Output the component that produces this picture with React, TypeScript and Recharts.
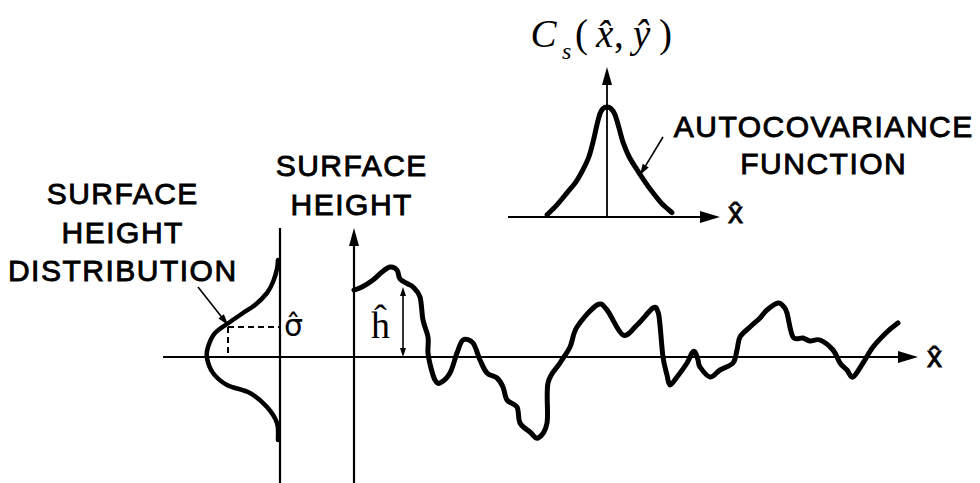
import React from 'react';
import { ComposedChart, Line, XAxis, YAxis, ReferenceLine } from 'recharts';

// ---------------- data ----------------
// Rough surface profile: position x̂ vs surface height ĥ
const profileX = [0, 0.8, 1.9, 2.8, 3.6, 4.3, 4.6, 5.4, 5.9, 6.6, 6.9, 7.4, 7.4, 7.7, 8.1, 8.6, 9.6, 10.3, 10.9, 11.9, 12.6, 13.3, 14.3, 14.9, 15.3, 16.3, 16.6, 17.6, 18.4, 19.3, 19.4, 20.6, 21.6, 22.3, 24.3, 25.3, 26.9, 28.3, 29.9, 30.4, 30.6, 30.9, 31.3, 31.6, 32.3, 33.3, 33.8, 34.1, 34.4, 34.6, 35.6, 36.6, 37.9, 38.3, 38.6, 39.6, 40.6, 41.3, 42.4, 43.0, 43.3, 43.9, 44.9, 45.6, 46.6, 47.9, 48.6, 49.3, 49.9, 50.9, 51.9, 53.3, 54.4];
const profileH = [6.7, 7.0, 7.7, 8.5, 9.0, 8.7, 7.8, 7.3, 7.0, 6.0, 3.7, 2.0, 0.4, -1.1, -2.3, -2.6, -1.6, 0.4, 1.7, 1.4, -0.3, -1.6, -2.1, -3.0, -4.3, -5.0, -6.6, -7.5, -8.1, -6.6, -2.6, -0.6, 1.0, 3.0, 5.2, 4.7, 2.2, 3.2, 4.9, 4.5, 3.2, 0.0, -1.8, -2.8, -2.0, -0.6, 0.4, 0.5, -0.3, -1.0, -2.0, -1.3, -0.6, 0.7, 2.0, 3.0, 3.9, 4.7, 5.4, 5.0, 4.4, 2.0, 1.9, 1.6, 1.7, 0.7, -0.6, -1.3, -2.0, -0.6, 1.0, 2.5, 3.4];

// Surface height distribution (drawn sideways, density grows to the left)
const distributionX = [-7.6, -7.7, -8.1, -8.7, -9.9, -11.1, -12.4, -13.9, -14.6, -14.7, -14.1, -12.7, -10.4, -8.7, -7.7, -7.6];
const distributionH = [9.7, 8.8, 7.5, 6.4, 5.2, 4.4, 3.5, 2.4, 1.0, -0.1, -1.6, -2.8, -3.6, -5.0, -6.6, -8.3];

// Autocovariance function C_s vs lag
const lagX = [-3.0, -2.5, -2.0, -1.55, -1.2, -0.9, -0.7, -0.5, -0.35, -0.2, 0, 0.2, 0.4, 0.6, 0.8, 1.1, 1.5, 1.9, 2.3, 2.75, 3.25];
const covC = [0.02, 0.11, 0.22, 0.32, 0.43, 0.55, 0.68, 0.84, 0.94, 0.985, 1.0, 0.985, 0.93, 0.81, 0.68, 0.55, 0.43, 0.32, 0.22, 0.12, 0.04];

// Marked quantities
const sigmaValue = 3.0;     // σ̂ level on the distribution
const sigmaDensity = -12.6; // where σ̂ meets the distribution
const hHatValue = 7.0;      // ĥ marked height
const hHatPos = 4.9;        // position of ĥ marker

// Text
const leftLabel = ['SURFACE', 'HEIGHT', 'DISTRIBUTION'];
const axisLabel = ['SURFACE', 'HEIGHT'];
const covLabel = ['AUTOCOVARIANCE', 'FUNCTION'];

const profileData = profileX.map((x, i) => ({ x, h: profileH[i] }));
const distributionData = distributionX.map((x, i) => ({ x, h: distributionH[i] }));
const covData = lagX.map((x, i) => ({ x, h: covC[i] }));

// ---------------- helpers ----------------
const INK = '#000';

// Catmull-Rom style smoothing (works for points in any order)
const smoothCurve: any = (context: any) => {
  let pts: number[][] = [];
  return {
    areaStart() {},
    areaEnd() {},
    lineStart() {
      pts = [];
    },
    point(x: number, y: number) {
      pts.push([+x, +y]);
    },
    lineEnd() {
      const n = pts.length;
      if (!n) return;
      context.moveTo(pts[0][0], pts[0][1]);
      const t = 1 / 6;
      for (let i = 0; i < n - 1; i++) {
        const p0 = pts[Math.max(0, i - 1)];
        const p1 = pts[i];
        const p2 = pts[i + 1];
        const p3 = pts[Math.min(n - 1, i + 2)];
        context.bezierCurveTo(
          p1[0] + (p2[0] - p0[0]) * t,
          p1[1] + (p2[1] - p0[1]) * t,
          p2[0] - (p3[0] - p1[0]) * t,
          p2[1] - (p3[1] - p1[1]) * t,
          p2[0],
          p2[1]
        );
      }
    },
  };
};

const arrowShape = (o: { end?: boolean; start?: boolean; len: number; half: number; width: number }) => (p: any) => {
  const { x1, y1, x2, y2 } = p;
  const dx = x2 - x1;
  const dy = y2 - y1;
  const L = Math.hypot(dx, dy) || 1;
  const ux = dx / L;
  const uy = dy / L;
  const head = (tx: number, ty: number, ddx: number, ddy: number) => {
    const bx = tx - ddx * o.len;
    const by = ty - ddy * o.len;
    return `${tx},${ty} ${bx - ddy * o.half},${by + ddx * o.half} ${bx + ddy * o.half},${by - ddx * o.half}`;
  };
  const sx = o.start ? x1 + ux * o.len * 0.7 : x1;
  const sy = o.start ? y1 + uy * o.len * 0.7 : y1;
  const ex = o.end ? x2 - ux * o.len * 0.7 : x2;
  const ey = o.end ? y2 - uy * o.len * 0.7 : y2;
  return (
    <g>
      <line x1={sx} y1={sy} x2={ex} y2={ey} stroke={INK} strokeWidth={o.width} />
      {o.end && <polygon points={head(x2, y2, ux, uy)} fill={INK} />}
      {o.start && <polygon points={head(x1, y1, -ux, -uy)} fill={INK} />}
    </g>
  );
};

const SANS = '"Liberation Sans", Arial, sans-serif';
const SERIF = '"Liberation Serif", "Times New Roman", serif';
const DEJAVU = '"DejaVu Sans", sans-serif';

const Txt = ({ x, base, size, serif, italic, family, children, style }: any) => {
  const k = family === DEJAVU ? 0.8125 : serif ? 0.8375 : 0.8465;
  return (
    <span
      style={{
        position: 'absolute',
        left: x,
        top: base - k * size,
        fontSize: size,
        lineHeight: `${size}px`,
        fontFamily: family || (serif ? SERIF : SANS),
        fontStyle: italic ? 'italic' : 'normal',
        whiteSpace: 'nowrap',
        color: INK,
        ...style,
      }}
    >
      {children}
    </span>
  );
};

const Block = ({ lines, center, top, lh }: { lines: string[]; center: number; top: number; lh: number }) => (
  <div
    style={{
      position: 'absolute',
      left: center - 200 + 0.75,
      top,
      width: 400,
      textAlign: 'center',
      fontFamily: SANS,
      fontSize: 30,
      lineHeight: `${lh}px`,
      letterSpacing: 1.5,
      color: INK,
      WebkitTextStroke: '0.9px #000',
      whiteSpace: 'nowrap',
    }}
  >
    {lines.map((l) => (
      <div key={l}>{l}</div>
    ))}
  </div>
);

const BOLDISH = { WebkitTextStroke: '0.8px #000' };

// ---------------- component ----------------
export default function App() {
  return (
    <div style={{ position: 'absolute', left: 0, top: 0, width: 980, height: 483, background: '#fff', overflow: 'hidden' }}>
      {/* main profile + distribution */}
      <div style={{ position: 'absolute', left: 0, top: 0 }}>
        <ComposedChart width={980} height={483} margin={{ top: 0, right: 0, bottom: 0, left: 0 }}>
          <XAxis type="number" dataKey="x" domain={[-35.4, 62.6]} allowDataOverflow hide />
          <YAxis type="number" dataKey="h" domain={[-12.6, 35.7]} allowDataOverflow hide />
          {/* axes */}
          <ReferenceLine ifOverflow="visible" segment={[{ x: -19.1, y: 0 }, { x: 56.4, y: 0 }]} shape={arrowShape({ end: true, len: 20, half: 6, width: 2.2 })} />
          <ReferenceLine ifOverflow="visible" segment={[{ x: 0, y: -12.6 }, { x: 0, y: 12.9 }]} shape={arrowShape({ end: true, len: 18, half: 5, width: 2.2 })} />
          <ReferenceLine ifOverflow="visible" segment={[{ x: -7.4, y: -12.6 }, { x: -7.4, y: 12.9 }]} stroke={INK} strokeWidth={2.2} />
          {/* sigma dashed guides */}
          <ReferenceLine ifOverflow="visible" segment={[{ x: sigmaDensity, y: sigmaValue }, { x: -7.4, y: sigmaValue }]} stroke={INK} strokeWidth={2} strokeDasharray="6 4" />
          <ReferenceLine ifOverflow="visible" segment={[{ x: sigmaDensity, y: sigmaValue }, { x: sigmaDensity, y: 0 }]} stroke={INK} strokeWidth={2} strokeDasharray="6 4" />
          {/* h-hat double arrow */}
          <ReferenceLine ifOverflow="visible" segment={[{ x: hHatPos, y: 0 }, { x: hHatPos, y: hHatValue }]} shape={arrowShape({ end: true, start: true, len: 9, half: 3, width: 1.6 })} />
          {/* label arrow to distribution */}
          <ReferenceLine ifOverflow="visible" segment={[{ x: -15.6, y: 7.0 }, { x: -12.6, y: 3.2 }]} shape={arrowShape({ end: true, len: 11, half: 3.5, width: 1.6 })} />
          <Line data={distributionData} dataKey="h" type={smoothCurve} stroke={INK} strokeWidth={4.5} dot={false} activeDot={false} isAnimationActive={false} strokeLinejoin="round" strokeLinecap="round" />
          <Line data={profileData} dataKey="h" type={smoothCurve} stroke={INK} strokeWidth={5} dot={false} activeDot={false} isAnimationActive={false} strokeLinejoin="round" strokeLinecap="round" />
        </ComposedChart>
      </div>

      {/* autocovariance inset */}
      <div style={{ position: 'absolute', left: 500, top: 60 }}>
        <ComposedChart width={240} height={170} margin={{ top: 0, right: 0, bottom: 0, left: 0 }}>
          <XAxis type="number" dataKey="x" domain={[-5.35, 6.65]} allowDataOverflow hide />
          <YAxis type="number" dataKey="h" domain={[-0.118, 1.427]} allowDataOverflow hide />
          <ReferenceLine ifOverflow="visible" segment={[{ x: -4.95, y: 0 }, { x: 5.65, y: 0 }]} shape={arrowShape({ end: true, len: 20, half: 6, width: 2.2 })} />
          <ReferenceLine ifOverflow="visible" segment={[{ x: 0, y: 0 }, { x: 0, y: 1.364 }]} shape={arrowShape({ end: true, len: 18, half: 5, width: 1.8 })} />
          <ReferenceLine ifOverflow="visible" segment={[{ x: 2.8, y: 0.727 }, { x: 1.65, y: 0.382 }]} shape={arrowShape({ end: true, len: 11, half: 3.5, width: 1.6 })} />
          <Line data={covData} dataKey="h" type={smoothCurve} stroke={INK} strokeWidth={5} dot={false} activeDot={false} isAnimationActive={false} strokeLinejoin="round" strokeLinecap="round" />
        </ComposedChart>
      </div>

      {/* text labels */}
      <Block lines={leftLabel} center={122} top={175} lh={38.5} />
      <Block lines={axisLabel} center={351} top={147} lh={38.5} />
      <Block lines={covLabel} center={823} top={108} lh={37} />

      {/* C_s(x̂, ŷ) */}
      <Txt x={530.5} base={47} size={39} serif italic>C</Txt>
      <Txt x={562} base={59} size={24} serif italic>s</Txt>
      <Txt x={575} base={47} size={39} serif>(</Txt>
      <Txt x={596} base={47} size={39} serif italic>{'x\u0302'}</Txt>
      <Txt x={614} base={47} size={39} serif>,</Txt>
      <Txt x={633} base={47} size={39} serif italic>{'y\u0302'}</Txt>
      <Txt x={659} base={47} size={39} serif>)</Txt>

      {/* axis x̂ labels */}
      <Txt x={927} base={367} size={30} style={BOLDISH}>{'x\u0302'}</Txt>
      <Txt x={728} base={223} size={30} style={BOLDISH}>{'x\u0302'}</Txt>

      {/* σ̂ and ĥ */}
      <Txt x={284} base={335} size={30} family={DEJAVU}>{'σ\u0302'}</Txt>
      <Txt x={371} base={338} size={38} serif>{'h\u0302'}</Txt>
    </div>
  );
}
